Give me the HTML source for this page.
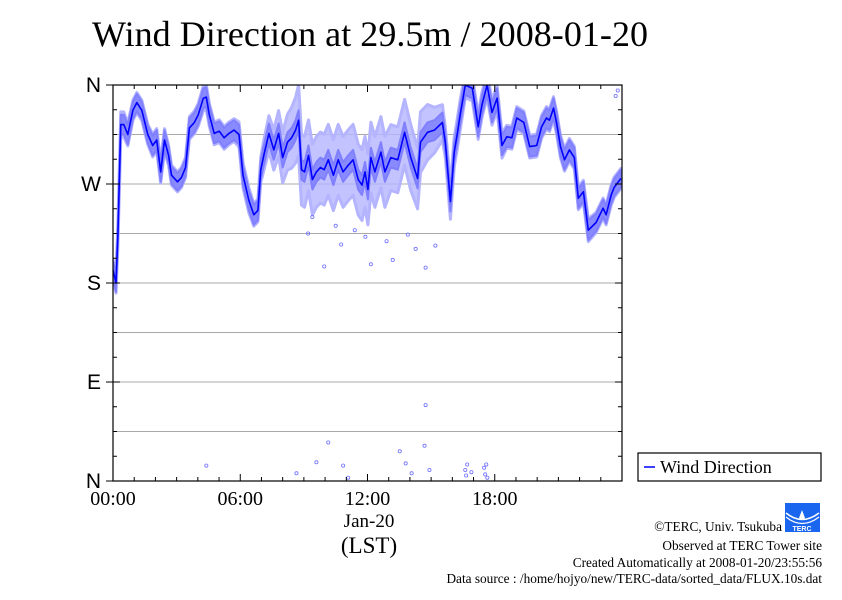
<!DOCTYPE html>
<html><head><meta charset="utf-8">
<style>
html,body{margin:0;padding:0;background:#fff;}
body{width:842px;height:595px;position:relative;overflow:hidden;font-family:"Liberation Serif",serif;}
</style></head>
<body>
<svg id="chart" width="842" height="595" viewBox="0 0 842 595" xmlns="http://www.w3.org/2000/svg">
<text x="92" y="46" font-family="Liberation Serif, serif" font-size="36" textLength="556" fill="#000">Wind Direction at 29.5m / 2008-01-20</text>
<g id="grid"></g>
<g id="band"></g>
<g id="pts"></g>
<g id="line"></g>
<g id="axes"></g>
<text x="369" y="527" text-anchor="middle" font-size="19">Jan-20</text>
<text x="369" y="553" text-anchor="middle" font-size="23">(LST)</text>
<g>
<rect x="638" y="453" width="183" height="28" fill="#fff" stroke="#000" stroke-width="1.2"/>
<line x1="644" y1="467" x2="655" y2="467" stroke="#0000ff" stroke-width="1.5"/>
<text x="660" y="473" font-size="18">Wind Direction</text>
</g>
<g>
<rect x="785" y="503" width="35" height="29" fill="#1a66ee"/>
<path d="M786 513 Q802 526 819 513" stroke="#fff" stroke-width="1.5" fill="none"/>
<path d="M786 517 Q802 530 819 517" stroke="#fff" stroke-width="1.2" fill="none"/>
<path d="M802 510 L799 518 Q802 522 805 518 Z" fill="#fff"/>
<text x="802" y="531" text-anchor="middle" font-family="Liberation Sans, sans-serif" font-size="7" font-weight="bold" fill="#fff">TERC</text>
</g>
<g font-size="13.3" text-anchor="end">
<text x="782" y="531">©TERC, Univ. Tsukuba</text>
<text x="822" y="550">Observed at TERC Tower site</text>
<text x="822" y="567">Created Automatically at 2008-01-20/23:55:56</text>
<text x="822" y="583">Data source : /home/hojyo/new/TERC-data/sorted_data/FLUX.10s.dat</text>
</g>
</svg>
<script>
const hours=[0,0.14,0.23,0.37,0.51,0.70,0.94,1.12,1.36,1.64,1.87,2.06,2.25,2.43,2.62,2.76,3.04,3.23,3.42,3.60,3.84,4.02,4.26,4.40,4.54,4.77,5.01,5.24,5.47,5.71,5.94,6.13,6.41,6.64,6.83,6.97,7.11,7.35,7.58,7.81,8.00,8.23,8.42,8.61,8.75,8.89,9.03,9.22,9.40,9.59,9.78,9.96,10.15,10.39,10.62,10.85,11.09,11.32,11.56,11.74,11.88,12.02,12.16,12.35,12.63,12.82,13.10,13.43,13.75,14.04,14.36,14.50,14.83,15.16,15.53,15.67,15.91,16.09,16.23,16.37,16.61,16.94,17.22,17.40,17.64,17.87,18.11,18.34,18.57,18.81,19.04,19.37,19.65,19.98,20.21,20.44,20.58,20.77,20.91,21.10,21.29,21.52,21.75,21.94,22.18,22.41,22.78,23.11,23.25,23.49,23.63,23.95];
const meanDeg=[192,180,224,324,324,315,337,344,337,315,305,310,281,310,296,278,272,276,285,321,326,333,348,349,333,316,318,312,316,319,315,278,255,242,246,283,296,316,301,316,294,308,312,319,328,283,281,296,274,281,285,283,292,278,292,281,287,292,274,269,281,265,294,281,299,281,294,292,317,294,275,308,317,319,326,308,254,299,315,333,360,357,322,342,360,335,348,305,313,312,330,326,304,305,322,330,328,339,326,304,292,301,294,257,263,228,235,248,242,260,267,275];
const spreadDeg=[8,8,10,10,10,9,8,8,8,8,9,9,9,9,8,8,8,8,8,9,9,9,10,10,9,9,9,9,9,9,10,10,10,9,9,10,12,14,16,18,20,22,24,26,28,28,28,28,28,28,28,28,28,28,28,28,28,28,28,28,28,28,28,28,28,28,26,26,26,26,24,24,22,18,14,12,14,12,12,12,10,10,10,10,10,10,10,10,9,9,9,9,9,9,9,9,9,9,9,9,9,9,9,9,9,9,8,8,8,8,8,8];
const outHours=[9.96,10.76,12.16,13.19,14.74,14.27,14.74,10.15,4.40,8.65,9.59,10.85,13.52,13.80,14.08,14.69,14.92,11.09,16.61,16.65,16.70,16.90,17.50,17.55,17.60,17.65,9.2,10.5,11.9,12.9,13.9,15.2,23.8,23.7,9.4,11.4];
const outDeg=[195,215,197,201,194,211,69,35,14,7,17,14,27,16,7,32,10,3,10,5,15,8,12,6,15,3,225,232,222,218,224,214,355,350,240,228];
const yTicks=["N","E","S","W","N"];
const yTickDeg=[0,90,180,270,360];
const xTickLabels=["00:00","06:00","12:00","18:00"];
const xTickHours=[0,6,12,18];

const NS="http://www.w3.org/2000/svg";
const X0=113,X1=622,Y0=481,Y1=85;
const xs=h=>X0+h*(X1-X0)/24;
const ys=d=>Y0-d*(Y0-Y1)/360;
function mk(tag,attrs,parent){const e=document.createElementNS(NS,tag);for(const k in attrs)e.setAttribute(k,attrs[k]);parent.appendChild(e);return e;}
const grid=document.getElementById('grid');
for(let d=45;d<360;d+=45){
  const l=mk('line',{x1:X0,x2:X1,y1:ys(d),y2:ys(d),stroke:'#a8a8a8','stroke-width':1},grid);
  
  
}
const defs=mk('defs',{},document.getElementById('chart'));
const cp=mk('clipPath',{id:'pc'},defs);
mk('rect',{x:X0,y:Y1,width:X1-X0,height:Y0-Y1},cp);
const band=document.getElementById('band');band.setAttribute('clip-path','url(#pc)');
function bandPath(scale,cap){
  let up='',dn='';
  for(let i=0;i<hours.length;i++){const s=Math.min(spreadDeg[i]*scale,cap);up+=(i?'L':'M')+xs(hours[i]).toFixed(1)+' '+ys(meanDeg[i]+s).toFixed(1);}
  for(let i=hours.length-1;i>=0;i--){const s=Math.min(spreadDeg[i]*scale,cap);dn+='L'+xs(hours[i]).toFixed(1)+' '+ys(meanDeg[i]-s).toFixed(1);}
  return up+dn+'Z';
}
const bo=mk('path',{d:bandPath(1.15,99),fill:'#b4b4ff','fill-opacity':0.8,stroke:'#b4b4ff','stroke-width':3,'stroke-linejoin':'round'},band);


const bi=mk('path',{d:bandPath(1,9),fill:'#8080ff','fill-opacity':0.85,stroke:'#8080ff','stroke-width':2,'stroke-linejoin':'round'},band);


const pts=document.getElementById('pts');pts.setAttribute('clip-path','url(#pc)');
for(let i=0;i<outHours.length;i++){
  const c=mk('circle',{cx:xs(outHours[i]),cy:ys(outDeg[i]),r:1.6,fill:'none',stroke:'#7070ff','stroke-width':0.8},pts);
  
  
}
const lg=document.getElementById('line');lg.setAttribute('clip-path','url(#pc)');
let ld='';for(let i=0;i<hours.length;i++)ld+=(i?'L':'M')+xs(hours[i]).toFixed(1)+' '+ys(meanDeg[i]).toFixed(1);
const lp=mk('path',{d:ld,fill:'none',stroke:'#0000ff','stroke-width':1.6,'stroke-linejoin':'round'},lg);


const ax=document.getElementById('axes');
mk('rect',{x:X0,y:Y1,width:X1-X0,height:Y0-Y1,fill:'none',stroke:'#000','stroke-width':1.2},ax);
for(let h=1;h<24;h++){const L=h%6===0?7:4;
  mk('line',{x1:xs(h),x2:xs(h),y1:Y0,y2:Y0-L,stroke:'#000'},ax);
  mk('line',{x1:xs(h),x2:xs(h),y1:Y1,y2:Y1+L,stroke:'#000'},ax);}
for(let d=22.5;d<360;d+=22.5){const L=(d%90===0)?7:4;
  mk('line',{x1:X0,x2:X0+L,y1:ys(d),y2:ys(d),stroke:'#000'},ax);
  mk('line',{x1:X1,x2:X1-L,y1:ys(d),y2:ys(d),stroke:'#000'},ax);}
for(let i=0;i<yTicks.length;i++){
  mk('line',{x1:X0-7,x2:X0,y1:ys(yTickDeg[i]),y2:ys(yTickDeg[i]),stroke:'#000'},ax);
  const t=mk('text',{x:X0-12,y:ys(yTickDeg[i])+7,'text-anchor':'end','font-family':'Liberation Sans, sans-serif','font-size':21},ax);
  t.textContent=yTicks[i];
  
  
}
for(let i=0;i<xTickLabels.length;i++){
  const t=mk('text',{x:xs(xTickHours[i]),y:Y0+24,'text-anchor':'middle','font-size':20},ax);
  t.textContent=xTickLabels[i];
  
  
}
</script>
</body></html>
